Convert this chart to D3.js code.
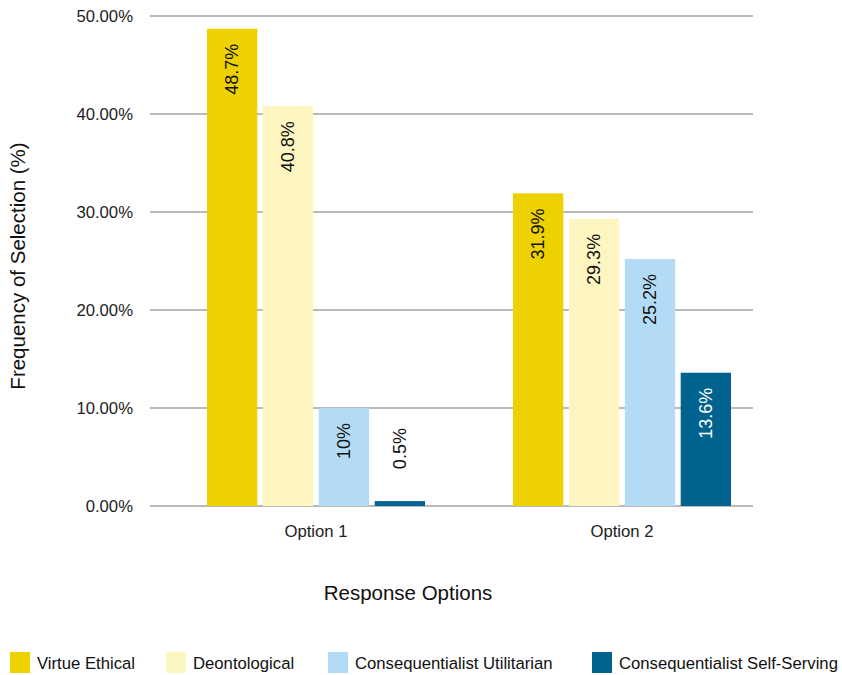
<!DOCTYPE html>
<html>
<head>
<meta charset="utf-8">
<script src="https://cdn.jsdelivr.net/npm/d3@7"></script>
<style>
  html, body { margin: 0; padding: 0; background: #fff; }
  svg { display: block; font-family: "Liberation Sans", Arial, Helvetica, sans-serif; }
</style>
</head>
<body>
<svg id="chart" width="842" height="675"></svg>
<script>
// Response options on the x axis
const options = ["Option 1", "Option 2"];
// Reasoning types (series)
const seriesNames = ["Virtue Ethical", "Deontological", "Consequentialist Utilitarian", "Consequentialist Self-Serving"];
const seriesColors = ["#EDD100", "#FDF6C0", "#B4DBF5", "#00628E"];
const labelColors = ["#111", "#111", "#111", "#fff"];
// Percent of selections, per series, for Option 1 and Option 2
const virtueEthical = [48.7, 31.9];
const deontological = [40.8, 29.3];
const utilitarian = [10, 25.2];
const selfServing = [0.5, 13.6];
const valueLabels = [["48.7%", "31.9%"], ["40.8%", "29.3%"], ["10%", "25.2%"], ["0.5%", "13.6%"]];
const yTicks = [0, 10, 20, 30, 40, 50];

const seriesValues = [virtueEthical, deontological, utilitarian, selfServing];

const svg = d3.select("#chart");
const plotLeft = 150, plotRight = 753, plotTop = 16, plotBottom = 506;

const y = d3.scaleLinear().domain([0, 50]).range([plotBottom, plotTop]);
const x0 = d3.scaleBand().domain(options).range([163, 775]).paddingInner(0).paddingOuter(0);
const x1 = d3.scaleBand().domain(d3.range(seriesNames.length))
  .range([x0.bandwidth() / 2 - 109, x0.bandwidth() / 2 + 109]).paddingInner(0.1).paddingOuter(0);

// Gridlines
svg.append("g").selectAll("line").data(yTicks).join("line")
  .attr("x1", plotLeft).attr("x2", plotRight)
  .attr("y1", d => y(d)).attr("y2", d => y(d))
  .attr("stroke", "#a3a3a3").attr("stroke-width", 1.5);

// Y tick labels
svg.append("g").selectAll("text").data(yTicks).join("text")
  .attr("x", 133).attr("y", d => y(d)).attr("dy", "0.35em")
  .attr("text-anchor", "end").attr("font-size", 16.7).attr("fill", "#222")
  .text(d => d3.format(".2f")(d) + "%");

// Bars and value labels (labels read bottom-to-top, ending near the bar top)
const groups = svg.append("g").selectAll("g").data(options).join("g")
  .attr("transform", d => `translate(${x0(d)},0)`);

seriesNames.forEach((name, si) => {
  groups.append("rect")
    .attr("x", x1(si))
    .attr("width", x1.bandwidth())
    .attr("y", (d, i) => y(seriesValues[si][i]))
    .attr("height", (d, i) => plotBottom - y(seriesValues[si][i]))
    .attr("fill", seriesColors[si]);

  groups.append("text")
    .attr("transform", (d, i) => {
      const v = seriesValues[si][i];
      const top = y(v);
      const cx = x1(si) + x1.bandwidth() / 2;
      const small = plotBottom - top < 60;
      const ty = small ? top - 73 : top + 15;
      return `translate(${cx},${ty}) rotate(-90)`;
    })
    .attr("dy", "0.35em")
    .attr("text-anchor", "end")
    .attr("font-size", 18)
    .attr("fill", (d, i) => (plotBottom - y(seriesValues[si][i]) < 60) ? "#111" : labelColors[si])
    .text((d, i) => valueLabels[si][i]);
});

// X category labels
svg.append("g").selectAll("text").data(options).join("text")
  .attr("x", d => x0(d) + x0.bandwidth() / 2).attr("y", 537)
  .attr("text-anchor", "middle").attr("font-size", 16.7).attr("fill", "#222")
  .text(d => d);

// Axis titles
svg.append("text")
  .attr("x", 408).attr("y", 600).attr("text-anchor", "middle")
  .attr("font-size", 20.5).attr("fill", "#111").text("Response Options");

svg.append("text")
  .attr("transform", "translate(25,266) rotate(-90)")
  .attr("text-anchor", "middle").attr("font-size", 20.5).attr("fill", "#111")
  .text("Frequency of Selection (%)");

// Legend
const legendX = [10, 166, 328, 592];
const legend = svg.append("g").selectAll("g").data(seriesNames).join("g")
  .attr("transform", (d, i) => `translate(${legendX[i]},652)`);
legend.append("rect").attr("width", 20).attr("height", 21)
  .attr("fill", (d, i) => seriesColors[i]);
legend.append("text").attr("x", 27).attr("y", 11).attr("dy", "0.35em")
  .attr("font-size", 16.7).attr("fill", "#111").text(d => d);
</script>
</body>
</html>
